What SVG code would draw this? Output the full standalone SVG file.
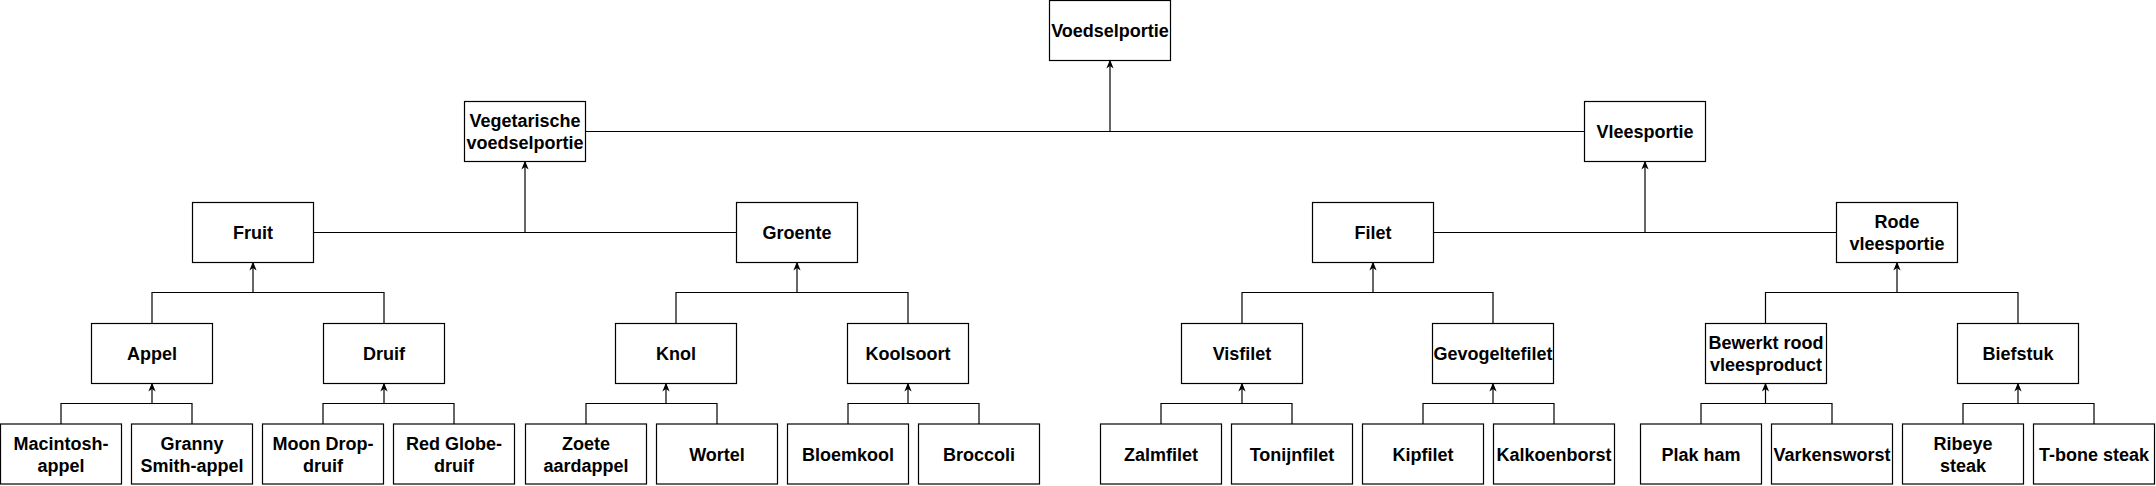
<svg xmlns="http://www.w3.org/2000/svg" width="2156" height="486" viewBox="0 0 2156 486">
<style>
.n rect{fill:#fff;stroke:#000;stroke-width:1.2}
.n text{font-family:"Liberation Sans",Arial,sans-serif;font-weight:bold;font-size:18px;fill:#000;text-anchor:middle}
.c path{fill:none;stroke:#000;stroke-width:1.2}
.c path.a{marker-end:url(#arr)}
</style>
<defs>
<marker id="arr" viewBox="0 0 10 10" refX="9" refY="5" markerWidth="9" markerHeight="9" markerUnits="userSpaceOnUse" orient="auto">
<path d="M0,1 L10,5 L0,9 L3,5 Z" fill="#000" stroke="none"/>
</marker>
</defs>
<g class="c" id="connectors">
<path d="M585.5,131.5 H1584.5"/>
<path class="a" d="M1110,131.5 V60.5"/>
<path d="M313.5,232.5 H736.5"/>
<path class="a" d="M525,232.5 V161.5"/>
<path d="M1433.5,232.5 H1836.5"/>
<path class="a" d="M1645,232.5 V161.5"/>
<path d="M152,323.5 V292.5 H384 V323.5"/>
<path class="a" d="M253,292.5 V262.5"/>
<path d="M676,323.5 V292.5 H908 V323.5"/>
<path class="a" d="M797,292.5 V262.5"/>
<path d="M1242,323.5 V292.5 H1493 V323.5"/>
<path class="a" d="M1373,292.5 V262.5"/>
<path d="M1765.5,323.5 V292.5 H2018 V323.5"/>
<path class="a" d="M1897,292.5 V262.5"/>
<path d="M61,424 V403.5 H192 V424"/>
<path class="a" d="M152,403.5 V383.5"/>
<path d="M323,424 V403.5 H454 V424"/>
<path class="a" d="M384,403.5 V383.5"/>
<path d="M586,424 V403.5 H717 V424"/>
<path class="a" d="M666,403.5 V383.5"/>
<path d="M848,424 V403.5 H979 V424"/>
<path class="a" d="M908,403.5 V383.5"/>
<path d="M1161,424 V403.5 H1292 V424"/>
<path class="a" d="M1242,403.5 V383.5"/>
<path d="M1423,424 V403.5 H1554 V424"/>
<path class="a" d="M1493,403.5 V383.5"/>
<path d="M1701,424 V403.5 H1832 V424"/>
<path class="a" d="M1765.5,403.5 V383.5"/>
<path d="M1963,424 V403.5 H2094 V424"/>
<path class="a" d="M2018,403.5 V383.5"/>
</g>
<g class="n" id="voedselportie"><rect x="1049.5" y="0.5" width="121" height="60"/><text x="1110" y="37">Voedselportie</text></g>
<g class="n" id="vegetarische"><rect x="464.5" y="101.5" width="121" height="60"/><text x="525" y="127">Vegetarische</text><text x="525" y="149">voedselportie</text></g>
<g class="n" id="vleesportie"><rect x="1584.5" y="101.5" width="121" height="60"/><text x="1645" y="138">Vleesportie</text></g>
<g class="n" id="fruit"><rect x="192.5" y="202.5" width="121" height="60"/><text x="253" y="239">Fruit</text></g>
<g class="n" id="groente"><rect x="736.5" y="202.5" width="121" height="60"/><text x="797" y="239">Groente</text></g>
<g class="n" id="filet"><rect x="1312.5" y="202.5" width="121" height="60"/><text x="1373" y="239">Filet</text></g>
<g class="n" id="rode"><rect x="1836.5" y="202.5" width="121" height="60"/><text x="1897" y="228">Rode</text><text x="1897" y="250">vleesportie</text></g>
<g class="n" id="appel"><rect x="91.5" y="323.5" width="121" height="60"/><text x="152" y="360">Appel</text></g>
<g class="n" id="druif"><rect x="323.5" y="323.5" width="121" height="60"/><text x="384" y="360">Druif</text></g>
<g class="n" id="knol"><rect x="615.5" y="323.5" width="121" height="60"/><text x="676" y="360">Knol</text></g>
<g class="n" id="koolsoort"><rect x="847.5" y="323.5" width="121" height="60"/><text x="908" y="360">Koolsoort</text></g>
<g class="n" id="visfilet"><rect x="1181.5" y="323.5" width="121" height="60"/><text x="1242" y="360">Visfilet</text></g>
<g class="n" id="gevogeltefilet"><rect x="1432.5" y="323.5" width="121" height="60"/><text x="1493" y="360">Gevogeltefilet</text></g>
<g class="n" id="bewerkt"><rect x="1705.5" y="323.5" width="121" height="60"/><text x="1766" y="349">Bewerkt rood</text><text x="1766" y="371">vleesproduct</text></g>
<g class="n" id="biefstuk"><rect x="1957.5" y="323.5" width="121" height="60"/><text x="2018" y="360">Biefstuk</text></g>
<g class="n" id="macintosh"><rect x="0.5" y="424" width="121" height="60"/><text x="61" y="449.5">Macintosh-</text><text x="61" y="471.5">appel</text></g>
<g class="n" id="granny"><rect x="131.5" y="424" width="121" height="60"/><text x="192" y="449.5">Granny</text><text x="192" y="471.5">Smith-appel</text></g>
<g class="n" id="moondrop"><rect x="262.5" y="424" width="121" height="60"/><text x="323" y="449.5">Moon Drop-</text><text x="323" y="471.5">druif</text></g>
<g class="n" id="redglobe"><rect x="393.5" y="424" width="121" height="60"/><text x="454" y="449.5">Red Globe-</text><text x="454" y="471.5">druif</text></g>
<g class="n" id="zoete"><rect x="525.5" y="424" width="121" height="60"/><text x="586" y="449.5">Zoete</text><text x="586" y="471.5">aardappel</text></g>
<g class="n" id="wortel"><rect x="656.5" y="424" width="121" height="60"/><text x="717" y="460.5">Wortel</text></g>
<g class="n" id="bloemkool"><rect x="787.5" y="424" width="121" height="60"/><text x="848" y="460.5">Bloemkool</text></g>
<g class="n" id="broccoli"><rect x="918.5" y="424" width="121" height="60"/><text x="979" y="460.5">Broccoli</text></g>
<g class="n" id="zalmfilet"><rect x="1100.5" y="424" width="121" height="60"/><text x="1161" y="460.5">Zalmfilet</text></g>
<g class="n" id="tonijnfilet"><rect x="1231.5" y="424" width="121" height="60"/><text x="1292" y="460.5">Tonijnfilet</text></g>
<g class="n" id="kipfilet"><rect x="1362.5" y="424" width="121" height="60"/><text x="1423" y="460.5">Kipfilet</text></g>
<g class="n" id="kalkoenborst"><rect x="1493.5" y="424" width="121" height="60"/><text x="1554" y="460.5">Kalkoenborst</text></g>
<g class="n" id="plakham"><rect x="1640.5" y="424" width="121" height="60"/><text x="1701" y="460.5">Plak ham</text></g>
<g class="n" id="varkensworst"><rect x="1771.5" y="424" width="121" height="60"/><text x="1832" y="460.5">Varkensworst</text></g>
<g class="n" id="ribeye"><rect x="1902.5" y="424" width="121" height="60"/><text x="1963" y="449.5">Ribeye</text><text x="1963" y="471.5">steak</text></g>
<g class="n" id="tbone"><rect x="2033.5" y="424" width="121" height="60"/><text x="2094" y="460.5">T-bone steak</text></g>
</svg>
